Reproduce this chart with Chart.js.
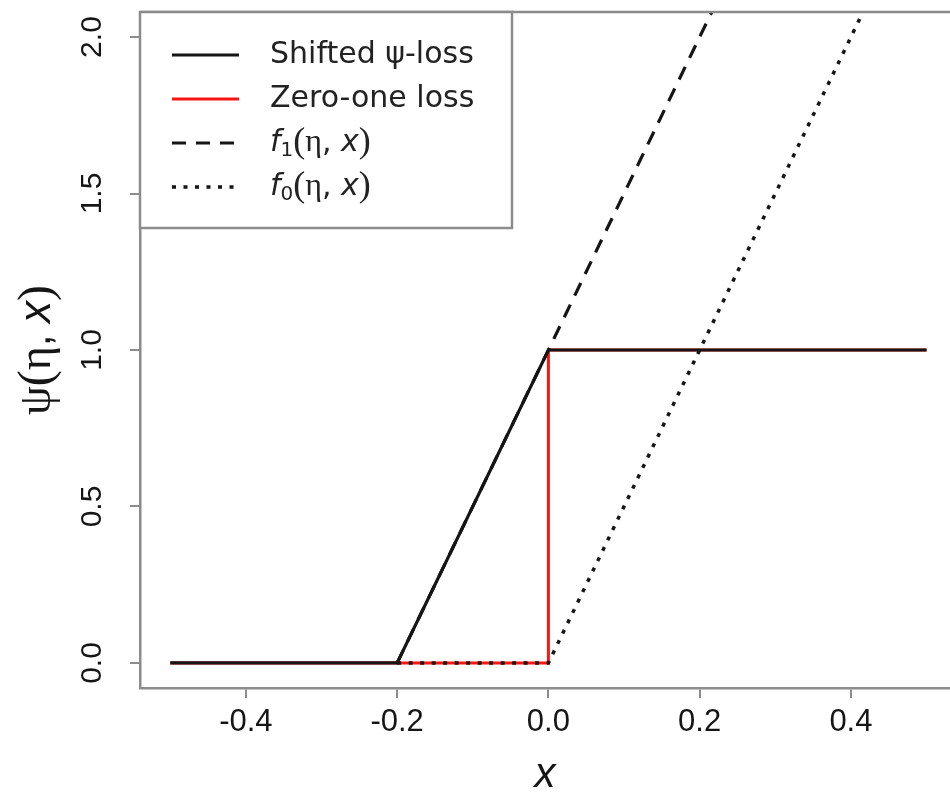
<!DOCTYPE html>
<html>
<head>
<meta charset="utf-8">
<script src="https://cdn.jsdelivr.net/npm/chart.js@4"></script>
<style>
  body { margin: 0; background: #fff; }
  canvas { display: block; }
</style>
</head>
<body>
<canvas id="lossChart" width="950" height="796"></canvas>
<script>
// curves
const psiX = [-0.5, -0.2, 0, 0.5];
const psiY = [0, 0, 1, 1];
const zeroOneX = [-0.5, 0, 0, 0.5];
const zeroOneY = [0, 0, 1, 1];
const f1X = [-0.2, 0.22];
const f1Y = [0, 2.1];
const f0X = [-0.2, 0, 0.42];
const f0Y = [0, 0, 2.1];

const xTicks = [-0.4, -0.2, 0, 0.2, 0.4];
const xTickLabels = ['-0.4', '-0.2', '0.0', '0.2', '0.4'];
const yTicks = [0, 0.5, 1, 1.5, 2];
const yTickLabels = ['0.0', '0.5', '1.0', '1.5', '2.0'];

const seriesNames = ['Shifted ψ-loss', 'Zero-one loss', 'f₁(η, x)', 'f₀(η, x)'];

const axisGray = '#8c8c8c';
const ink = '#151515';

function toPoints(xs, ys) {
    return xs.map((x, i) => ({ x: x, y: ys[i] }));
}

// rich text pieces for the legend entries and the y title
const legendParts = [
    [{ t: 'Shifted ψ-loss', f: '30px "DejaVu Sans"' }],
    [{ t: 'Zero-one loss', f: '30px "DejaVu Sans"' }],
    [
        { t: 'f', f: 'italic 30px "DejaVu Sans"' },
        { t: '1', f: '20px "DejaVu Sans"', dy: 8 },
        { t: '(', f: '36px "Liberation Serif"' },
        { t: 'η', f: '32px "Liberation Serif"' },
        { t: ', ', f: '30px "DejaVu Sans"' },
        { t: 'x', f: 'italic 30px "DejaVu Sans"' },
        { t: ')', f: '36px "Liberation Serif"' }
    ],
    [
        { t: 'f', f: 'italic 30px "DejaVu Sans"' },
        { t: '0', f: '20px "DejaVu Sans"', dy: 8 },
        { t: '(', f: '36px "Liberation Serif"' },
        { t: 'η', f: '32px "Liberation Serif"' },
        { t: ', ', f: '30px "DejaVu Sans"' },
        { t: 'x', f: 'italic 30px "DejaVu Sans"' },
        { t: ')', f: '36px "Liberation Serif"' }
    ]
];

const yTitleParts = [
    { t: 'ψ', f: '46px "Liberation Serif"' },
    { t: '(', f: '48px "Liberation Serif"' },
    { t: 'η', f: '46px "Liberation Serif"' },
    { t: ', ', f: '42px "Liberation Sans"' },
    { t: 'x', f: 'italic 44px "Liberation Sans"' },
    { t: ')', f: '48px "Liberation Serif"' }
];

function drawParts(ctx, parts, x, y) {
    let cx = x;
    parts.forEach(p => {
        ctx.font = p.f;
        ctx.fillText(p.t, cx, y + (p.dy || 0));
        cx += ctx.measureText(p.t).width;
    });
    return cx - x;
}

function partsWidth(ctx, parts) {
    let w = 0;
    parts.forEach(p => {
        ctx.font = p.f;
        w += ctx.measureText(p.t).width;
    });
    return w;
}

const decorPlugin = {
    id: 'decor',
    afterDraw(chart) {
        const ctx = chart.ctx;
        const area = chart.chartArea;

        // top side of the plot box
        ctx.save();
        ctx.strokeStyle = axisGray;
        ctx.lineWidth = 2.5;
        ctx.beginPath();
        ctx.moveTo(area.left, area.top);
        ctx.lineTo(area.right, area.top);
        ctx.stroke();
        ctx.restore();

        // legend box in the top-left corner
        const boxW = 372, boxH = 216;
        ctx.save();
        ctx.fillStyle = '#fff';
        ctx.fillRect(area.left, area.top, boxW, boxH);
        ctx.strokeStyle = axisGray;
        ctx.lineWidth = 2.5;
        ctx.strokeRect(area.left, area.top, boxW, boxH);

        chart.data.datasets.forEach((ds, i) => {
            const rowY = area.top + 43 + i * 44;
            ctx.strokeStyle = ds.borderColor;
            ctx.lineWidth = ds.borderWidth;
            ctx.setLineDash(ds.borderDash || []);
            ctx.beginPath();
            ctx.moveTo(area.left + 32, rowY);
            ctx.lineTo(area.left + 99, rowY);
            ctx.stroke();
            ctx.setLineDash([]);

            ctx.fillStyle = '#222';
            ctx.textBaseline = 'middle';
            ctx.textAlign = 'left';
            drawParts(ctx, legendParts[i], area.left + 130, rowY);
        });
        ctx.restore();

        // y axis title, rotated
        ctx.save();
        ctx.fillStyle = ink;
        ctx.textBaseline = 'middle';
        ctx.textAlign = 'left';
        ctx.translate(38, (area.top + area.bottom) / 2);
        ctx.rotate(-Math.PI / 2);
        const w = partsWidth(ctx, yTitleParts);
        drawParts(ctx, yTitleParts, -w / 2, 0);
        ctx.restore();
    }
};

new Chart(document.getElementById('lossChart'), {
    type: 'line',
    data: {
        datasets: [
            {
                label: seriesNames[0],
                data: toPoints(psiX, psiY),
                borderColor: ink,
                borderWidth: 3.2,
                order: 2
            },
            {
                label: seriesNames[1],
                data: toPoints(zeroOneX, zeroOneY),
                borderColor: '#ff1414',
                borderWidth: 3,
                order: 3
            },
            {
                label: seriesNames[2],
                data: toPoints(f1X, f1Y),
                borderColor: ink,
                borderWidth: 3.2,
                borderDash: [14, 10],
                order: 1
            },
            {
                label: seriesNames[3],
                data: toPoints(f0X, f0Y),
                borderColor: ink,
                borderWidth: 3.5,
                borderDash: [4, 7.5],
                order: 0
            }
        ]
    },
    options: {
        responsive: false,
        animation: false,
        elements: {
            point: { radius: 0, hoverRadius: 0 },
            line: { tension: 0, fill: false }
        },
        layout: { padding: { top: 12, right: 0, left: 0, bottom: 0 } },
        plugins: {
            legend: { display: false },
            tooltip: { enabled: false }
        },
        scales: {
            x: {
                type: 'linear',
                min: -0.54,
                max: 0.531,
                afterBuildTicks: scale => { scale.ticks = xTicks.map(v => ({ value: v })); },
                afterFit: scale => {
                    scale.height = 108;
                    scale.paddingLeft = 0;
                    scale.paddingRight = 0;
                },
                ticks: {
                    callback: (v) => xTickLabels[xTicks.indexOf(v)],
                    font: { family: '"Liberation Sans"', size: 31 },
                    color: ink,
                    padding: 6,
                    maxRotation: 0
                },
                grid: {
                    display: true,
                    drawOnChartArea: false,
                    drawTicks: true,
                    tickLength: 10,
                    color: axisGray,
                    lineWidth: 2
                },
                border: { display: true, color: axisGray, width: 2.5 },
                title: {
                    display: true,
                    text: 'x',
                    font: { family: '"Liberation Sans"', size: 42, style: 'italic', lineHeight: 1 },
                    color: ink,
                    padding: { top: 0, bottom: 0 }
                }
            },
            y: {
                type: 'linear',
                min: -0.08,
                max: 2.08,
                afterBuildTicks: scale => { scale.ticks = yTicks.map(v => ({ value: v })); },
                afterFit: scale => {
                    scale.width = 140;
                    scale.paddingTop = 0;
                    scale.paddingBottom = 0;
                },
                ticks: {
                    callback: (v) => yTickLabels[yTicks.indexOf(v)],
                    font: { family: '"Liberation Sans"', size: 30 },
                    color: ink,
                    minRotation: 90,
                    maxRotation: 90,
                    crossAlign: 'center',
                    padding: 16
                },
                grid: {
                    display: true,
                    drawOnChartArea: false,
                    drawTicks: true,
                    tickLength: 10,
                    color: axisGray,
                    lineWidth: 2
                },
                border: { display: true, color: axisGray, width: 2.5 }
            }
        }
    },
    plugins: [decorPlugin]
});
</script>
</body>
</html>
